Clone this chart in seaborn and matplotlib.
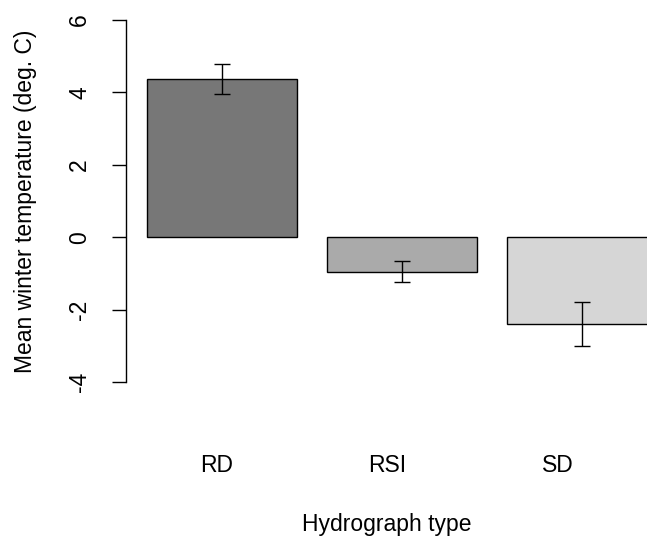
import matplotlib
matplotlib.use("Agg")
import matplotlib.pyplot as plt
import seaborn as sns
import pandas as pd

# Mean winter temperature by hydrograph type, with error half-widths
hydrograph_types = ["RD", "RSI", "SD"]
mean_temp = [4.37, -0.95, -2.40]
temp_err = [0.42, 0.30, 0.60]
bar_colors = ["#777777", "#aaaaaa", "#d6d6d6"]
y_ticks = [-4, -2, 0, 2, 4, 6]

sns.set_style("white")
plt.rcParams["font.family"] = ["Liberation Sans", "DejaVu Sans"]
plt.rcParams["font.size"] = 16.5
plt.rcParams["text.color"] = "black"
plt.rcParams["axes.labelcolor"] = "black"
plt.rcParams["xtick.color"] = "black"
plt.rcParams["ytick.color"] = "black"

W, H = 647, 536
fig = plt.figure(figsize=(W / 100, H / 100), dpi=100)
ax = fig.add_axes([126 / W, 1 - 382 / H, 521 / W, 362 / H])

df = pd.DataFrame({"type": hydrograph_types, "temp": mean_temp})
sns.barplot(data=df, x="type", y="temp", hue="type", palette=bar_colors,
            width=0.833, edgecolor="black", linewidth=1.0, legend=False,
            errorbar=None, ax=ax, clip_on=False)

ax.errorbar(range(len(hydrograph_types)), mean_temp, yerr=temp_err,
            fmt="none", ecolor="black", elinewidth=1.0, capsize=5.5,
            capthick=1.0)

ax.set_xlim(-0.531, 2.363)
ax.set_ylim(-4, 6)

# y axis in base-graphics style: rotated labels, outward ticks
ax.set_yticks(y_ticks)
ax.set_yticklabels([str(t) for t in y_ticks], rotation=90, va="center")
ax.tick_params(axis="y", direction="out", length=10, width=1.0,
               color="black", labelcolor="black", pad=15, left=True)

# category labels under the bars
ax.set_xticks([-0.03, 0.92, 1.87])
ax.set_xticklabels(hydrograph_types)
ax.tick_params(axis="x", length=0, pad=52, labelcolor="black")

for side in ["top", "right", "bottom"]:
    ax.spines[side].set_visible(False)
ax.spines["left"].set_color("black")
ax.spines["left"].set_linewidth(1.0)

ax.set_ylabel("Mean winter temperature (deg. C)", color="black")
ax.yaxis.set_label_coords(-0.192, 0.5)
ax.yaxis.label.set_va("center")
ax.set_xlabel("Hydrograph type", color="black")
ax.xaxis.set_label_coords(0.501, -0.395)
ax.xaxis.label.set_va("center")

fig.savefig("out.png", dpi=100)
